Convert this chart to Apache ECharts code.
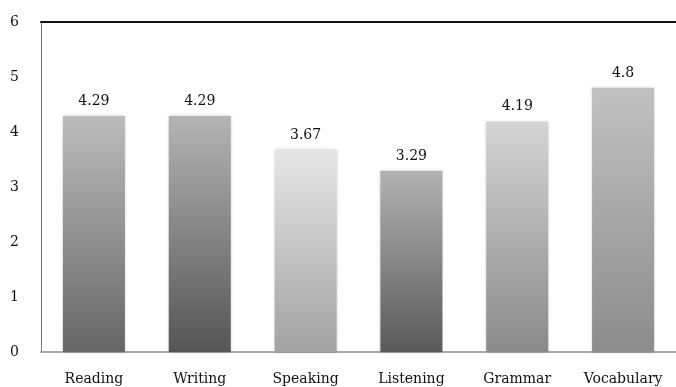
<!DOCTYPE html>
<html>
<head>
<meta charset="utf-8">
<script src="https://cdn.jsdelivr.net/npm/echarts@6/dist/echarts.min.js"></script>
<style>
  html, body { margin: 0; padding: 0; background: #fff; }
  #chart { width: 676px; height: 387px; }
</style>
</head>
<body>
<div id="chart"></div>
<script>
// Skill area mean scores
const categories = ['Reading', 'Writing', 'Speaking', 'Listening', 'Grammar', 'Vocabulary'];
const scores = [4.29, 4.29, 3.67, 3.29, 4.19, 4.8];
const yTicks = [0, 1, 2, 3, 4, 5, 6];

// gradient shades per bar (top -> bottom)
const topShades = ['#bcbcbc', '#b4b4b4', '#e6e6e6', '#b2b2b2', '#d4d4d4', '#c1c1c1'];
const bottomShades = ['#666666', '#555555', '#a2a2a2', '#5a5a5a', '#8a8a8a', '#8c8c8c'];

const chart = echarts.init(document.getElementById('chart'));

const barData = scores.map((v, i) => ({
  value: v,
  itemStyle: {
    color: new echarts.graphic.LinearGradient(0, 0, 0, 1, [
      { offset: 0, color: topShades[i] },
      { offset: 1, color: bottomShades[i] },
    ]),
  },
}));

const serif = '"DejaVu Serif", "Liberation Serif", serif';

const option = {
  animation: false,
  grid: { left: 41, top: 22, width: 644, height: 330 },
  xAxis: [
    {
      type: 'category',
      data: categories,
      axisLine: { show: true, lineStyle: { color: '#a8a8a8', width: 2 } },
      axisTick: { show: false },
      axisLabel: {
        margin: 20,
        color: '#111',
        fontFamily: serif,
        fontSize: 14,
      },
    },
    {
      type: 'category',
      position: 'top',
      data: categories,
      axisLine: { show: true, lineStyle: { color: '#111', width: 2 } },
      axisTick: { show: false },
      axisLabel: { show: false },
    },
  ],
  yAxis: {
    type: 'value',
    min: yTicks[0],
    max: yTicks[yTicks.length - 1],
    interval: 1,
    axisLine: { show: true, lineStyle: { color: '#777', width: 1 } },
    axisTick: { show: false },
    splitLine: { show: false },
    axisLabel: {
      margin: 22,
      color: '#111',
      fontFamily: serif,
      fontSize: 14,
    },
  },
  series: [
    {
      type: 'bar',
      data: barData,
      barWidth: 62,
      itemStyle: {
        shadowBlur: 3,
        shadowColor: 'rgba(0,0,0,0.25)',
      },
      label: {
        show: true,
        position: 'top',
        distance: 8,
        color: '#111',
        fontFamily: serif,
        fontSize: 14,
      },
    },
  ],
};

chart.setOption(option);
</script>
</body>
</html>
